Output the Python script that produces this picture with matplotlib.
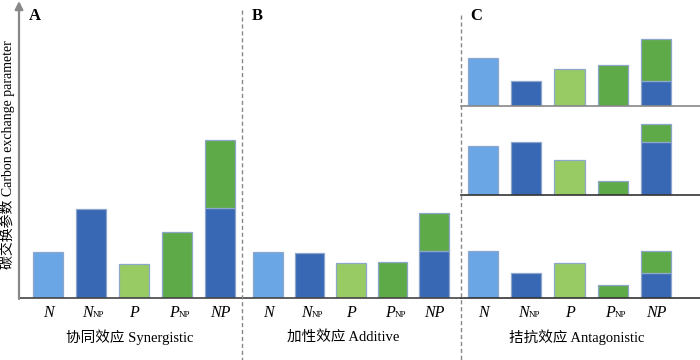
import matplotlib
matplotlib.use("Agg")
import matplotlib.pyplot as plt
from matplotlib.lines import Line2D

plt.rcParams['font.family'] = ['Liberation Serif', 'Noto Sans CJK SC']

tick_main = ['N', 'N', 'P', 'P', 'NP']
tick_sub = ['', 'NP', '', 'NP', '']
# bar heights (arbitrary units); NP bars are stacked: blue part + green part
syn_single = [46, 89, 34, 66]
syn_np = [90, 68]
add_single = [46, 45, 35, 36]
add_np = [47, 38]
ant_top_single = [48, 25, 37, 41]
ant_top_np = [25, 42]
ant_mid_single = [49, 53, 35, 14]
ant_mid_np = [53, 18]
ant_bot_single = [47, 25, 35, 13]
ant_bot_np = [25, 22]

panel_titles = ['协同效应 Synergistic', '加性效应 Additive', '拮抗效应 Antagonistic']
panel_letters = ['A', 'B', 'C']
ylabel = '碳交换参数 Carbon exchange parameter'

c_lblue = '#6aa6e6'
c_dblue = '#3867b3'
c_lgreen = '#98cb64'
c_green = '#5ea948'
edge = '#8fa6cc'
single_colors = [c_lblue, c_dblue, c_lgreen, c_green]

W, H = 700, 360
fig = plt.figure(figsize=(7, 3.6), dpi=100)


def px_axes(x0, x1, ytop, ybot):
    return fig.add_axes([x0 / W, (H - ybot) / H, (x1 - x0) / W, (ybot - ytop) / H])


def draw_bars(ax, single, np_parts, x_first_px, spacing, x0, x1, ytop, ybot, width=0.7):
    xs = list(range(5))
    ax.bar(xs[:4], single, width=width, color=single_colors, edgecolor=edge, linewidth=0.9, zorder=2)
    ax.bar(xs[4], np_parts[0], width=width, color=c_dblue, edgecolor=edge, linewidth=0.9, zorder=2)
    ax.bar(xs[4], np_parts[1], bottom=np_parts[0], width=width, color=c_green, edgecolor=edge,
           linewidth=0.9, zorder=2)
    left = -(x_first_px - x0) / spacing
    ax.set_xlim(left, left + (x1 - x0) / spacing)
    ax.set_ylim(0, ybot - ytop)
    ax.set_yticks([])
    ax.set_xticks([])
    for s in ['top', 'right', 'left']:
        ax.spines[s].set_visible(False)
    ax.set_facecolor('none')


def draw_ticklabels(ax):
    for i, (m, s) in enumerate(zip(tick_main, tick_sub)):
        if s:
            ax.annotate(m, xy=(i, 0), xycoords=('data', 'axes fraction'), xytext=(1.5, -10.5),
                        textcoords='offset points', ha='right', va='center', fontsize=11.5,
                        fontstyle='italic', annotation_clip=False)
            ax.annotate(s, xy=(i, 0), xycoords=('data', 'axes fraction'), xytext=(1.5, -12.5),
                        textcoords='offset points', ha='left', va='center', fontsize=6.5,
                        annotation_clip=False)
        else:
            ax.annotate(m, xy=(i, 0), xycoords=('data', 'axes fraction'), xytext=(0, -10.5),
                        textcoords='offset points', ha='center', va='center', fontsize=11.5,
                        fontstyle='italic', annotation_clip=False)


# Panel A
axA = px_axes(19, 242, 2, 298)
draw_bars(axA, syn_single, syn_np, 48, 43, 19, 242, 2, 298)
axA.spines['bottom'].set_color('#444444')
axA.spines['bottom'].set_linewidth(1.2)
draw_ticklabels(axA)

# Panel B
axB = px_axes(242, 461, 2, 298)
draw_bars(axB, add_single, add_np, 268, 41.5, 242, 461, 2, 298)
axB.spines['bottom'].set_color('#444444')
axB.spines['bottom'].set_linewidth(1.2)
draw_ticklabels(axB)

# Panel C: three stacked sub-panels
c_specs = [(ant_top_single, ant_top_np, 20, 106, '#888888'),
           (ant_mid_single, ant_mid_np, 109, 195, '#333333'),
           (ant_bot_single, ant_bot_np, 198, 298, '#333333')]
axC_list = []
for single, np_parts, yt, yb, sc in c_specs:
    ax = px_axes(461, 700, yt, yb)
    draw_bars(ax, single, np_parts, 483, 43.25, 461, 700, yt, yb)
    ax.spines['bottom'].set_color(sc)
    ax.spines['bottom'].set_linewidth(1.2)
    axC_list.append(ax)
draw_ticklabels(axC_list[-1])

# Overlay for annotations in pixel coordinates
ov = fig.add_axes([0, 0, 1, 1])
ov.set_xlim(0, W)
ov.set_ylim(H, 0)
ov.axis('off')
ov.set_facecolor('none')

# y-axis arrow of panel A
ov.annotate('', xy=(19, 1), xytext=(19, 299),
            arrowprops=dict(arrowstyle='-|>', color='#888888', lw=1.6, mutation_scale=12,
                            shrinkA=0, shrinkB=0))

# dashed separators
ov.add_line(Line2D([242, 242], [10, 360], color='#888888', lw=1.0, ls=(0, (3, 2))))
ov.add_line(Line2D([461, 461], [15, 360], color='#888888', lw=1.0, ls=(0, (3, 2))))

# panel letters
for letter, x in zip(panel_letters, [29, 252, 470]):
    ov.text(x, 16, letter, fontsize=12, fontweight='bold', ha='left', va='center')

# panel titles
for title, x in zip(panel_titles, [130, 343, 577]):
    ov.text(x, 337, title, fontsize=10.5, ha='center', va='center')

# y label
ov.text(7, 155, ylabel, fontsize=10, rotation=90, ha='center', va='center')

fig.savefig('out.png', dpi=100)
